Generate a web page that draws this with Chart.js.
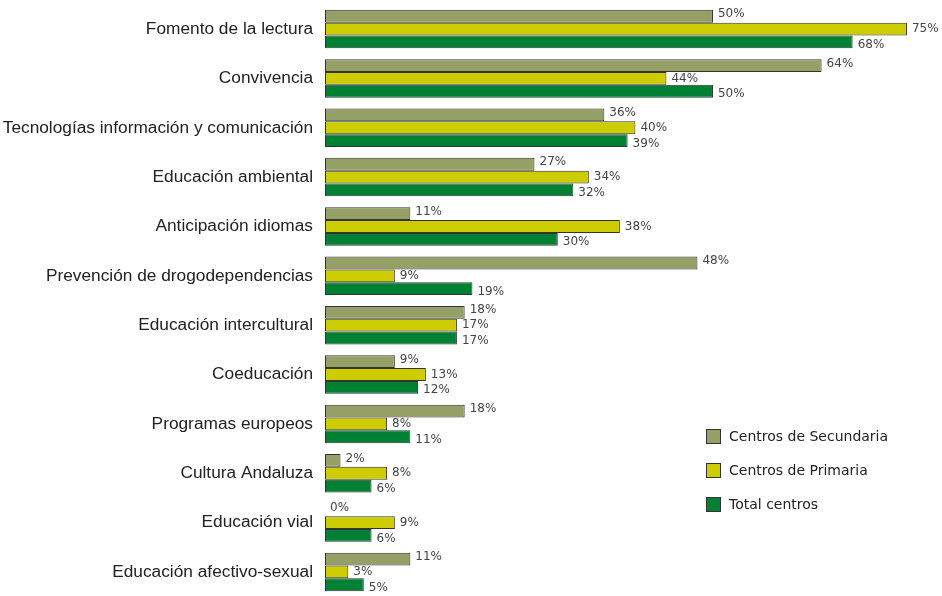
<!DOCTYPE html>
<html>
<head>
<meta charset="utf-8">
<script src="https://cdn.jsdelivr.net/npm/chart.js@4/dist/chart.umd.min.js"></script>
<style>
  html, body { margin: 0; padding: 0; background: #fff; }
  #wrap { position: relative; width: 942px; height: 596px; overflow: hidden; }
  #canvasBar { position: absolute; left: 0; top: -18px; }
  .legend { position: absolute; left: 706px; font: 14px "DejaVu Sans", sans-serif; color: #222; }
  .legend div { height: 34px; display: flex; align-items: center; }
  .legend span.box { display: inline-block; width: 13px; height: 13px; border: 1px solid #333; margin-right: 8px; }
</style>
</head>
<body>
<div id="wrap">
  <canvas id="canvasBar" width="942" height="637"></canvas>
  <div class="legend" style="top:419px">
    <div><span class="box" style="background:#95a066"></span>Centros de Secundaria</div>
    <div><span class="box" style="background:#cccc00"></span>Centros de Primaria</div>
    <div><span class="box" style="background:#008033"></span>Total centros</div>
  </div>
</div>
<script>
// categorías
const labels = [
  'Fomento de la lectura',
  'Convivencia',
  'Tecnologías información y comunicación',
  'Educación ambiental',
  'Anticipación idiomas',
  'Prevención de drogodependencias',
  'Educación intercultural',
  'Coeducación',
  'Programas europeos',
  'Cultura Andaluza',
  'Educación vial',
  'Educación afectivo-sexual'
];

// porcentajes
const secundaria = [50, 64, 36, 27, 11, 48, 18, 9, 18, 2, 0, 11];
const primaria   = [75, 44, 40, 34, 38, 9, 17, 13, 8, 8, 9, 3];
const total      = [68, 50, 39, 32, 30, 19, 17, 12, 11, 6, 6, 5];

// etiquetas de valor al final de cada barra
const valueLabels = {
  id: 'valueLabels',
  afterDatasetsDraw(chart) {
    const ctx = chart.ctx;
    const shift = [-2, 0, 3];
    ctx.save();
    ctx.font = '12px "DejaVu Sans", sans-serif';
    ctx.fillStyle = '#444';
    ctx.textBaseline = 'middle';
    ctx.textAlign = 'left';
    chart.data.datasets.forEach((ds, i) => {
      chart.getDatasetMeta(i).data.forEach((bar, j) => {
        ctx.fillText(ds.data[j] + '%', bar.x + 5, bar.y + shift[i]);
      });
    });
    ctx.restore();
  }
};

const ctx = document.getElementById('canvasBar').getContext('2d');
const barChart = new Chart(ctx, {
  type: 'bar',
  data: {
    labels: labels,
    datasets: [
      { label: 'Centros de Secundaria', data: secundaria, backgroundColor: '#95a066' },
      { label: 'Centros de Primaria', data: primaria, backgroundColor: '#cccc00' },
      { label: 'Total centros', data: total, backgroundColor: '#008033' }
    ]
  },
  options: {
    indexAxis: 'y',
    responsive: false,
    animation: false,
    layout: { padding: { top: 2, right: 4, bottom: 0, left: 0 } },
    datasets: {
      bar: {
        borderColor: '#333',
        borderWidth: 1,
        borderSkipped: false,
        categoryPercentage: 0.78,
        barPercentage: 1
      }
    },
    plugins: {
      legend: { display: false },
      tooltip: { enabled: false }
    },
    scales: {
      x: {
        min: 0,
        max: 79,
        display: false
      },
      y: {
        grid: { display: false, drawTicks: false },
        border: { display: false },
        ticks: {
          padding: 12,
          color: '#222',
          font: { family: '"Liberation Sans", Arial, sans-serif', size: 17.3 }
        },
        afterFit(scale) { scale.width = 325; }
      }
    }
  },
  plugins: [valueLabels]
});
</script>
</body>
</html>
